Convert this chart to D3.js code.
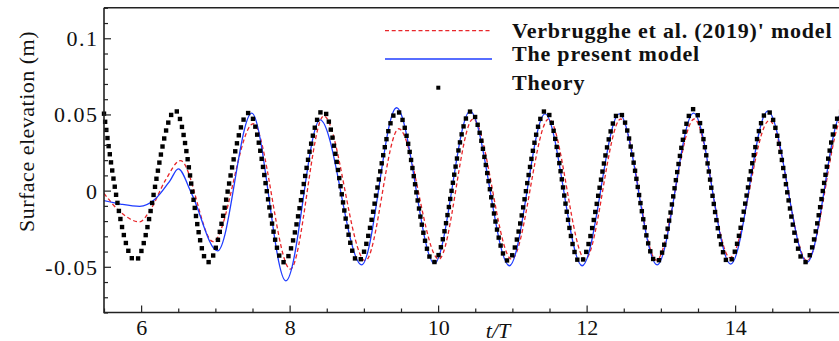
<!DOCTYPE html>
<html><head><meta charset="utf-8">
<script src="https://cdn.jsdelivr.net/npm/d3@7"></script>
<style>body{margin:0;background:#fff;} svg{display:block;}</style>
</head><body><svg id="c" width="839" height="341"></svg>
<script>
const xDomain = [5.5, 15.5];
const yDomain = [-0.08, 0.12];
const xMajorTicks = [6, 8, 10, 12, 14];
const xTickLabels = ["6", "8", "10", "12", "14"];
const yMajorTicks = [-0.05, 0, 0.05, 0.1];
const yTickLabels = ["-0.05", "0", "0.05", "0.1"];
const seriesNames = ["Verbrugghe et al. (2019)' model", "The present model", "Theory"];

// Theory (extrema)
const theoryT   = [5.5, 5.92, 6.46, 6.90, 7.45, 7.92, 8.45, 8.92, 9.45, 9.94, 10.44, 10.94, 11.45, 11.91, 12.44, 12.94, 13.44, 13.91, 14.44, 14.94, 15.44, 15.92];
const theoryEta = [0.0505, -0.046, 0.0526, -0.047, 0.051, -0.047, 0.0526, -0.0465, 0.052, -0.047, 0.052, -0.046, 0.0526, -0.047, 0.051, -0.047, 0.0535, -0.047, 0.052, -0.047, 0.052, -0.047];

// The present model (blue)
const blueT   = [5.5, 5.72, 5.98, 6.19, 6.39, 6.50, 6.68, 7.03, 7.49, 7.95, 8.41, 8.97, 9.44, 9.95, 10.43, 10.96, 11.44, 11.94, 12.44, 12.95, 13.44, 13.94, 14.44, 14.97, 15.44, 15.90];
const blueEta = [-0.0066, -0.0088, -0.0103, -0.0055, 0.0066, 0.0143, -0.002, -0.0395, 0.0509, -0.0592, 0.0465, -0.0487, 0.0544, -0.0478, 0.0522, -0.0493, 0.0504, -0.0493, 0.0504, -0.0487, 0.0509, -0.0482, 0.0522, -0.047, 0.051, -0.047];

// Verbrugghe et al. (2019)' model (red dashed)
const redT   = [5.5, 5.72, 5.98, 6.12, 6.33, 6.53, 6.97, 7.51, 8.01, 8.46, 9.02, 9.47, 10.01, 10.47, 10.99, 11.49, 11.98, 12.46, 12.94, 13.45, 13.93, 14.46, 14.97, 15.46, 15.95];
const redEta = [-0.0018, -0.014, -0.0205, -0.013, 0.007, 0.0197, -0.0335, 0.0439, -0.0515, 0.049, -0.046, 0.0406, -0.045, 0.047, -0.045, 0.047, -0.045, 0.047, -0.0456, 0.047, -0.044, 0.046, -0.046, 0.049, -0.046];

const W = 839, H = 341;
const L = 104, R = 846.5, T = 7.8, B = 312.5;
const FONT = "'Liberation Serif','Times New Roman',serif";
const svg = d3.select("#c");
const x = d3.scaleLinear(xDomain, [L, R]);
const y = d3.scaleLinear(yDomain, [B, T]);

svg.append("defs").append("clipPath").attr("id", "clip")
  .append("rect").attr("x", L).attr("y", T).attr("width", R - L).attr("height", B - T);

const toPts = (ts, vs) => ts.map((t, i) => [t, vs[i]]);
const line = d3.line().x(d => x(d[0])).y(d => y(d[1])).curve(d3.curveMonotoneX);

const plot = svg.append("g").attr("clip-path", "url(#clip)");
// theory guide path (invisible) for symbol placement by distance
const thPath = plot.append("path").attr("d", line(toPts(theoryT, theoryEta)))
  .attr("fill", "none").attr("stroke", "none");

plot.append("path").attr("d", line(toPts(redT, redEta)))
  .attr("fill", "none").attr("stroke", "#e8262a").attr("stroke-width", 1.3)
  .attr("stroke-dasharray", "4,2.7");
plot.append("path").attr("d", line(toPts(blueT, blueEta)))
  .attr("fill", "none").attr("stroke", "#1f3cff").attr("stroke-width", 1.3);

// theory symbols, spaced by distance along the curve
const node = thPath.node();
const total = node.getTotalLength();
const spacing = 8.2, sz = 4.4;
const sym = [];
for (let s = 0; s <= total; s += spacing) {
  const p = node.getPointAtLength(s);
  if (p.x <= W + 3) sym.push(p);
}
svg.append("g").selectAll("rect").data(sym).join("rect")
  .attr("x", d => d.x - sz / 2).attr("y", d => d.y - sz / 2)
  .attr("width", sz).attr("height", sz).attr("fill", "#000");

// axes
const axisColor = "#222";
const gx = svg.append("g").attr("transform", `translate(0,${B})`)
  .call(d3.axisBottom(x).tickValues(xMajorTicks).tickFormat((d, i) => xTickLabels[i]).tickSize(-7).tickPadding(7));
const gxm = svg.append("g").attr("transform", `translate(0,${B})`)
  .call(d3.axisBottom(x).tickValues(d3.range(5.5, 15.6, 0.5).filter(v => v % 2 !== 0)).tickFormat("").tickSize(-4));
const gy = svg.append("g").attr("transform", `translate(${L},0)`)
  .call(d3.axisLeft(y).tickValues(yMajorTicks).tickFormat((d, i) => yTickLabels[i]).tickSize(-7).tickPadding(5.5));
const gym = svg.append("g").attr("transform", `translate(${L},0)`)
  .call(d3.axisLeft(y).tickValues(d3.range(-8, 13).map(v => v / 100).filter(v => Math.round(v * 100) % 5 !== 0)).tickFormat("").tickSize(-4));
[gx, gxm, gy, gym].forEach(g => {
  g.select(".domain").remove();
  g.selectAll("line").attr("stroke", axisColor).attr("stroke-width", 1.2);
  g.selectAll("text").attr("font-family", FONT).attr("font-size", 22).attr("fill", "#111");
});
gy.selectAll("text").attr("dy", "0.34em").attr("letter-spacing", "1.5px");

// frame
svg.append("path").attr("d", `M${L},${T}H${W}M${L},${T}V${B}H${W}`)
  .attr("fill", "none").attr("stroke", axisColor).attr("stroke-width", 1.6);

// axis titles
svg.append("text").attr("transform", "translate(26,131.5) rotate(-90)")
  .attr("text-anchor", "middle").attr("dominant-baseline", "central")
  .attr("font-family", FONT).attr("font-size", 22).attr("letter-spacing", "0.5px").attr("fill", "#111")
  .text("Surface elevation (m)");
svg.append("text").attr("x", 498).attr("y", 337.5).attr("text-anchor", "middle")
  .attr("font-family", FONT).attr("font-size", 22).attr("font-style", "italic").attr("fill", "#111")
  .text("t/T");

// legend
const lg = svg.append("g");
lg.append("line").attr("x1", 385).attr("x2", 492).attr("y1", 30.7).attr("y2", 30.7)
  .attr("stroke", "#e8262a").attr("stroke-width", 1.3).attr("stroke-dasharray", "4,2.7");
lg.append("line").attr("x1", 385).attr("x2", 492).attr("y1", 59).attr("y2", 59)
  .attr("stroke", "#1f3cff").attr("stroke-width", 1.3);
lg.append("rect").attr("x", 438.3 - 2).attr("y", 87.7 - 2).attr("width", 4).attr("height", 4).attr("fill", "#000");
const baselines = [37.5, 60.5, 89.5];
lg.selectAll("text.lt").data(seriesNames).join("text").attr("class", "lt")
  .attr("x", 512).attr("y", (d, i) => baselines[i])
  .attr("font-family", FONT).attr("font-size", 22).attr("font-weight", "bold")
  .attr("letter-spacing", "0.8px").attr("fill", "#111")
  .text(d => d);
</script>
</body></html>
